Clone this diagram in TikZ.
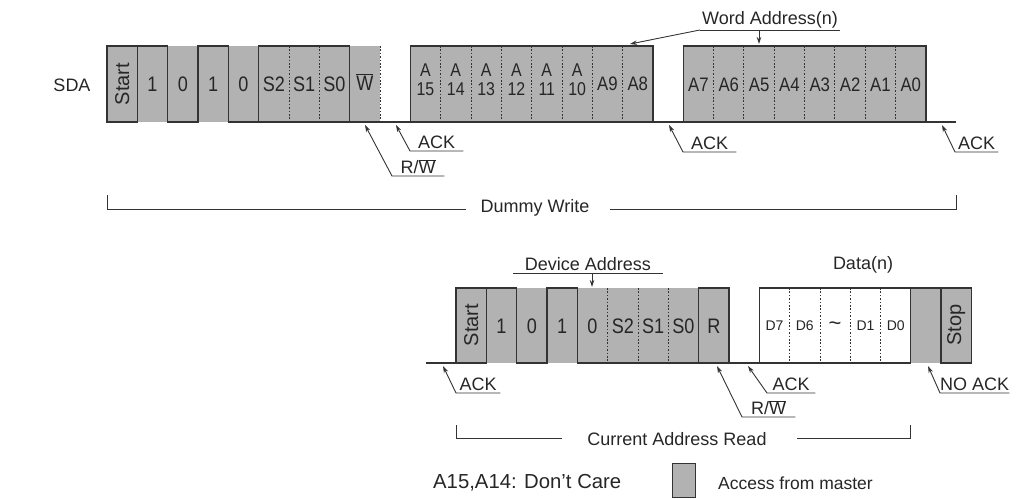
\documentclass[tikz,border=0pt]{standalone}
\usepackage{fontspec}
\setmainfont{Liberation Sans}
\newfontfamily\nfont[FakeStretch=0.86]{Liberation Sans}
\usetikzlibrary{arrows.meta}
\begin{document}
\begin{tikzpicture}[x=1pt,y=-1pt,
  wave/.style={line width=1.1pt, draw=black!80, line join=miter},
  dotl/.style={line width=0.9pt, draw=black!80, dash pattern=on 1.6pt off 1.8pt},
  txt/.style={font=\fontsize{18}{17}\selectfont, text=black!85, inner sep=0pt, align=center},
  bit/.style={font=\nfont\fontsize{21}{17}\selectfont, text=black!85, inner sep=0pt},
  abit/.style={font=\nfont\fontsize{19.5}{17}\selectfont, text=black!85, inner sep=0pt},
  twol/.style={font=\nfont\fontsize{18.5}{17}\selectfont, text=black!85, inner sep=0pt},
  rot/.style={font=\fontsize{20}{17}\selectfont, text=black!85, inner sep=0pt, rotate=90},
  small/.style={font=\fontsize{14}{14}\selectfont, text=black!85, inner sep=0pt},
  callout/.style={draw=black!80, line width=0.9pt, {Stealth[length=7pt,width=4.5pt]}-},
  clbl/.style={font=\fontsize{18}{18}\selectfont, text=black!85, anchor=south west, inner xsep=0pt, inner ysep=2pt},
  brk/.style={draw=black!80, line width=0.9pt}
]
\useasboundingbox (0,0) rectangle (1017,498);
\def\p{30.33}
% ================= TOP ROW =================
\fill[black!30] (107,46) rectangle (380,122);
\fill[black!30] (410.3,46) rectangle (653,122);
\fill[black!30] (683.3,46) rectangle (926,122);
\draw[wave] (107,46) rectangle (137.3,122);
\draw[wave] (137.3,46) -- (167.7,46) -- (167.7,122) -- (198,122) -- (198,46) -- (228.3,46) -- (228.3,122) -- (956,122);
\draw[wave] (258.7,46) rectangle (349.7,122);
\draw[wave] (410.3,46) rectangle (653,122);
\draw[wave] (683.3,46) rectangle (926,122);
\draw[dotl] (289,46) -- (289,122);
\draw[dotl] (319.3,46) -- (319.3,122);
\draw[dotl] (380,46) -- (380,122);
\foreach \i in {11,...,17} \draw[dotl] ({107+\i*\p},46) -- ({107+\i*\p},122);
\foreach \i in {20,...,26} \draw[dotl] ({107+\i*\p},46) -- ({107+\i*\p},122);

\node[txt] (sda) at (72,85) {SDA};
\node[rot] (st1) at (122.2,84) {Start};
\foreach \i/\t in {1/1,2/0,3/1,4/0,5/S2,6/S1,7/S0}
  \node[bit] (tb\i) at ({107+(\i+0.5)*\p},84) {\t};
\node[bit] (tb8) at ({107+8.5*\p},82) {$\overline{\mbox{W}}$};
\foreach \i/\t in {10/15,11/14,12/13,13/12,14/11,15/10}{
  \node[twol] (ta\i) at ({107+(\i+0.5)*\p},70) {A};
  \node[twol] (tn\i) at ({107+(\i+0.5)*\p},89.5) {\t};}
\node[abit] (ta16) at ({107+16.5*\p},84) {A9};
\node[abit] (ta17) at ({107+17.5*\p},84) {A8};
\foreach \i/\t in {19/7,20/6,21/5,22/4,23/3,24/2,25/1,26/0}
  \node[abit] (tl\i) at ({107+(\i+0.5)*\p},85) {A\t};

% Word Address label
\node[txt, minimum width=140pt, inner ysep=2pt, anchor=south] (wa) at (770,30) {Word Address(n)};
\coordinate (wtip1) at (630,44);
\coordinate (wtip2) at (759,44);
\coordinate (wsrc2) at (759,30);
\draw[brk] (wa.south west) -- (wa.south east);
\draw[callout] (wtip1) -- (wa.south west);
\draw[callout] (wtip2) -- (wsrc2);

% top callouts
\coordinate (c1) at (396,125);
\node[clbl, minimum width=53pt] (k1) at (410,151) {ACK};
\draw[callout] (c1) -- (k1.south west) -- (k1.south east);
\coordinate (c2) at (365,125);
\node[clbl, minimum width=52pt] (k2) at (392,176) {R/$\overline{\mbox{W}}$};
\draw[callout] (c2) -- (k2.south west) -- (k2.south east);
\coordinate (c3) at (669,125);
\node[clbl, minimum width=53pt] (k3) at (683,152) {ACK};
\draw[callout] (c3) -- (k3.south west) -- (k3.south east);
\coordinate (c4) at (942,125);
\node[clbl, minimum width=43pt] (k4) at (955,152) {ACK};
\draw[callout] (c4) -- (k4.south west) -- (k4.south east);

% Dummy write bracket
\node[txt] (dw) at (535,208) {Dummy Write};
\coordinate (dwl) at (107,195);
\coordinate (dwr) at (956,195);
\draw[brk] (dwl) -- (107,209) -- (466,209);
\draw[brk] (610,209) -- (956,209) -- (dwr);

% ================= BOTTOM ROW =================
\fill[black!30] (456,288) rectangle (729,363);
\fill[black!30] (910.7,288) rectangle (971.3,363);
\draw[wave] (426,363) -- (456,363);
\draw[wave] (456,288) rectangle (486.3,363);
\draw[wave] (486.3,288) -- (516.7,288) -- (516.7,363) -- (547,363) -- (547,288) -- (577.3,288) -- (577.3,363);
\draw[wave] (577.3,363) -- (910.7,363);
\draw[wave] (698.7,288) rectangle (729,363);
\draw[wave, fill=white] (759.3,288) rectangle (910.7,363);
\draw[wave] (941,288) rectangle (971.3,363);
\draw[wave] (910.7,288) -- (941,288);
\foreach \i in {5,6,7} \draw[dotl] ({456+\i*\p},288) -- ({456+\i*\p},363);
\foreach \i in {11,...,14} \draw[dotl] ({456+\i*\p},288) -- ({456+\i*\p},363);

\node[rot] (st2) at (471.2,325) {Start};
\foreach \i/\t in {1/1,2/0,3/1,4/0,5/S2,6/S1,7/S0,8/R}
  \node[bit] (bb\i) at ({456+(\i+0.5)*\p},326) {\t};
\foreach \i/\t in {10/D7,11/D6,13/D1,14/D0}
  \node[small] (bd\i) at ({456+(\i+0.5)*\p},326) {\t};
\node[font=\fontsize{22}{20}\selectfont, text=black!85, inner sep=0pt] (bd12) at ({456+12.5*\p},326) {\char"7E};
\node[rot] (sp) at (956.2,325) {Stop};

% Device address
\node[txt, minimum width=150pt, inner ysep=2pt, anchor=south] (da) at (588,273) {Device Address};
\coordinate (dtip) at (592,287);
\coordinate (dsrc) at (592,273);
\draw[brk] (da.south west) -- (da.south east);
\draw[callout] (dtip) -- (dsrc);
\node[txt] (dn) at (863,265) {Data(n)};

% bottom callouts
\coordinate (c5) at (443,366);
\node[clbl, minimum width=44pt] (k5) at (456,393) {ACK};
\draw[callout] (c5) -- (k5.south west) -- (k5.south east);
\coordinate (c6) at (717,366);
\node[clbl, minimum width=53pt] (k6) at (742,417) {R/$\overline{\mbox{W}}$};
\draw[callout] (c6) -- (k6.south west) -- (k6.south east);
\coordinate (c7) at (748,366);
\node[clbl, minimum width=48pt] (k7) at (767,393) {ACK};
\draw[callout] (c7) -- (k7.south west) -- (k7.south east);
\coordinate (c8) at (928,366);
\node[clbl, minimum width=53pt] (k8) at (940,393) {NO ACK};
\draw[callout] (c8) -- (k8.south west) -- (k8.south east);

% Current Address Read bracket
\node[txt] (car) at (677,439) {Current Address Read};
\coordinate (carl) at (456,425);
\coordinate (carr) at (910,425);
\draw[brk] (carl) -- (456,438) -- (562,438);
\draw[brk] (797,438) -- (910,438) -- (carr);

% legend
\node[txt, anchor=west, font=\fontsize{20.3}{20}\selectfont] (dc) at (433,483) {A15,A14: Don’t Care};
\node[draw=black!80, line width=0.9pt, fill=black!30, minimum width=23pt, minimum height=34pt, inner sep=0pt, anchor=north west] (lg) at (672,463) {};
\node[txt, anchor=west, font=\fontsize{17.5}{18}\selectfont] (am) at (718,483) {Access from master};
\end{tikzpicture}
\end{document}
